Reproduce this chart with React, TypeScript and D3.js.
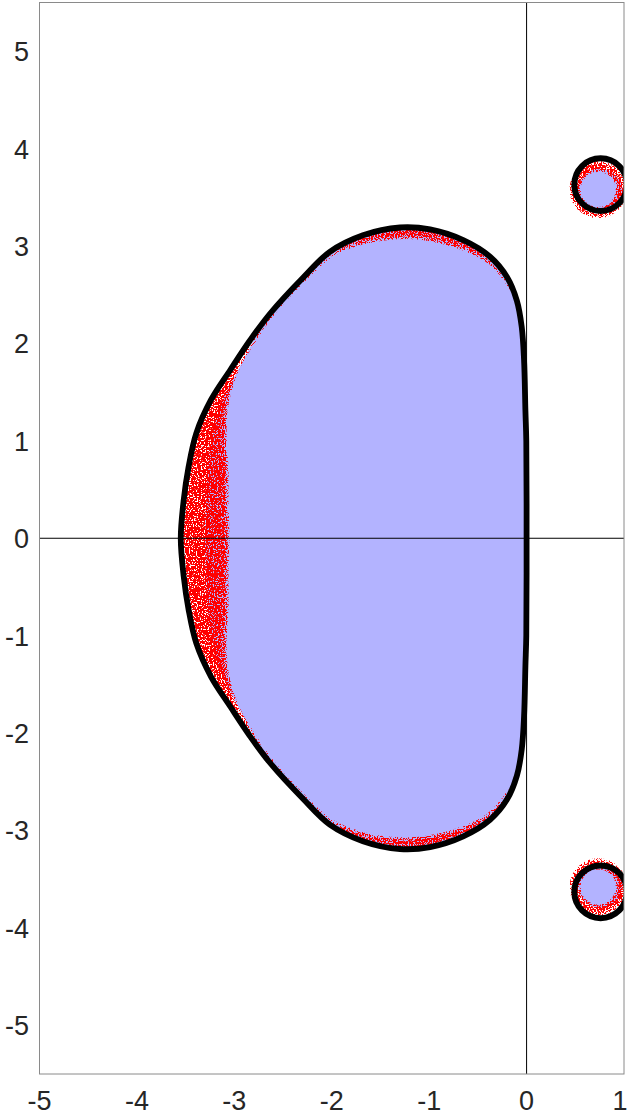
import React from 'react';
import * as d3 from 'd3';

const W = 629;
const H = 1117;

const xTicks = [-5, -4, -3, -2, -1, 0, 1];
const yTicks = [5, 4, 3, 2, 1, 0, -1, -2, -3, -4, -5];

// upper half of the black boundary, from the origin round to the left real-axis crossing
const edgeRe = [0, -0.003, -0.012, -0.026, -0.05, -0.1, -0.2, -0.375, -0.65, -0.99, -1.3, -1.68, -2.02, -2.29, -2.63, -2.84, -3.04, -3.24, -3.39, -3.47, -3.52, -3.55];
const edgeIm = [0, 1.0, 1.31, 1.83, 2.17, 2.44, 2.68, 2.89, 3.06, 3.17, 3.19, 3.11, 2.94, 2.68, 2.31, 2.03, 1.73, 1.42, 1.08, 0.73, 0.39, 0];

// upper half of the blue fill, which stays a bit inside the boundary on the left
const fillRe = [0, -0.003, -0.012, -0.026, -0.05, -0.1, -0.2, -0.375, -0.65, -0.99, -1.3, -1.68, -2.02, -2.29, -2.61, -2.8, -2.96, -3.12, -3.22, -3.27, -3.29, -3.3];
const fillIm = [0, 1.0, 1.31, 1.83, 2.17, 2.44, 2.68, 2.89, 3.06, 3.17, 3.19, 3.11, 2.94, 2.68, 2.31, 2.03, 1.73, 1.42, 1.08, 0.73, 0.39, 0];

// inner edge of the red speckle band, upper half, right to left
const speckRe = [-0.11, -0.235, -0.41, -0.68, -1.0, -1.3, -1.66, -1.99, -2.26, -2.6, -2.8, -2.95, -3.05, -3.08, -3.06, -3.06, -3.05];
const speckIm = [2.43, 2.645, 2.83, 2.965, 3.05, 3.07, 3.02, 2.89, 2.65, 2.28, 1.99, 1.73, 1.42, 1.08, 0.73, 0.39, 0];

// the two islands on the right
const islandRe = [0.76, 0.76];
const islandIm = [3.63, -3.63];
const islandR = 0.27;
const islandFillRe = [0.755, 0.755];
const islandFillIm = [3.57, -3.57];
const islandFillR = 0.225;
const islandSpeckRe = [0.735, 0.735];
const islandSpeckIm = [3.58, -3.58];
const islandSpeckR = [0.18, 0.295]; // inner, outer

type Pt = [number, number];

const pts = (re: number[], im: number[]): Pt[] => re.map((r, i) => [r, im[i]]);
// close an upper half with its mirror image below the real axis
const mirrored = (half: Pt[]): Pt[] => [
  ...half,
  ...half.slice(1, -1).reverse().map(([r, i]) => [r, -i] as Pt),
];

export default function App() {
  const left = 39.5, right = 624, top = 2.5, bottom = 1074;
  const x = d3.scaleLinear().domain([-5, 1]).range([left, right]);
  const y = d3.scaleLinear().domain([-5.5, 5.5]).range([bottom, top]);

  const loop = d3
    .line<Pt>()
    .x(d => x(d[0]))
    .y(d => y(d[1]))
    .curve(d3.curveCatmullRomClosed.alpha(0.5));

  const edge = mirrored(pts(edgeRe, edgeIm));
  const fill = mirrored(pts(fillRe, fillIm));

  // inner loop of the speckle band: speckle edge above, its mirror below, then the boundary near the origin
  const speckHalf = pts(speckRe, speckIm);
  const speckLower = speckHalf.slice(0, -1).reverse().map(([r, i]) => [r, -i] as Pt);
  const rightSide = pts(edgeRe.slice(0, 6), edgeIm.slice(0, 6));
  const rightLoop = [
    ...rightSide.slice(1).reverse().map(([r, i]) => [r, -i] as Pt),
    ...rightSide,
  ];
  const speckInner = [...speckHalf, ...speckLower, ...rightLoop];

  const speckBand = (loop(edge) ?? '') + (loop(speckInner) ?? '');

  const k = x(1) - x(0);
  const ring = (cx: number, cy: number) => {
    const ri = islandSpeckR[0] * k, ro = islandSpeckR[1] * k;
    const p = d3.path();
    p.moveTo(cx + ro, cy);
    p.arc(cx, cy, ro, 0, 2 * Math.PI);
    p.moveTo(cx + ri, cy);
    p.arc(cx, cy, ri, 0, 2 * Math.PI);
    return p.toString();
  };

  const font = "'Liberation Sans', Arial, Helvetica, sans-serif";

  return (
    <svg width={W} height={H} style={{ position: 'absolute', left: 0, top: 0, background: '#fff' }}>
      <defs>
        <clipPath id="plot">
          <rect x={left} y={top} width={right - left} height={bottom - top} />
        </clipPath>
        {/* noisy red dots, thinning out towards the edges of the shape they fill */}
        <filter
          id="speckle"
          x="0"
          y="0"
          width={W}
          height={H}
          filterUnits="userSpaceOnUse"
          colorInterpolationFilters="sRGB"
        >
          <feTurbulence type="fractalNoise" baseFrequency="0.75" numOctaves={1} seed={4} result="noise" />
          <feColorMatrix
            in="noise"
            type="matrix"
            values="0 0 0 0 0  0 0 0 0 0  0 0 0 0 0  -1 0 0 0 1"
            result="dark"
          />
          <feGaussianBlur in="SourceAlpha" stdDeviation="3" result="soft" />
          <feComposite in="dark" in2="soft" operator="arithmetic" k1="0" k2="0.75" k3="0.24" k4="0" result="sum" />
          <feComponentTransfer in="sum" result="mask">
            <feFuncA type="linear" slope="40" intercept="-21.3" />
          </feComponentTransfer>
          <feComposite in="mask" in2="SourceAlpha" operator="in" result="inside" />
          <feFlood floodColor="#ff0000" result="red" />
          <feComposite in="red" in2="inside" operator="in" />
        </filter>
      </defs>

      <g clipPath="url(#plot)">
        <path d={loop(fill) ?? ''} fill="#b3b3ff" />
        {islandFillRe.map((r, i) => (
          <circle key={'f' + i} cx={x(r)} cy={y(islandFillIm[i])} r={islandFillR * k} fill="#b3b3ff" />
        ))}

        <path d={speckBand} fill="#f00" fillRule="evenodd" filter="url(#speckle)" />
        {islandSpeckRe.map((r, i) => (
          <path
            key={'s' + i}
            d={ring(x(r), y(islandSpeckIm[i]))}
            fill="#f00"
            fillRule="evenodd"
            filter="url(#speckle)"
          />
        ))}

        <path d={loop(edge) ?? ''} fill="none" stroke="#000" strokeWidth={5.8} />
        {islandRe.map((r, i) => (
          <circle key={'o' + i} cx={x(r)} cy={y(islandIm[i])} r={islandR * k} fill="none" stroke="#000" strokeWidth={6} />
        ))}

        <line x1={left} x2={right} y1={y(0)} y2={y(0)} stroke="#000" strokeWidth={1} />
        <line x1={x(0)} x2={x(0)} y1={top} y2={bottom} stroke="#000" strokeWidth={1} />
      </g>

      <rect x={left} y={top} width={right - left} height={bottom - top} fill="none" stroke="#8a8a8a" strokeWidth={1} />

      <g fontFamily={font} fontSize={27} fill="#262626">
        {yTicks.map(t => (
          <text key={'y' + t} x={29} y={y(t) + 10} textAnchor="end">
            {String(t)}
          </text>
        ))}
        {xTicks.map(t => (
          <text key={'x' + t} x={Math.min(x(t), W - 9)} y={1110} textAnchor="middle">
            {String(t)}
          </text>
        ))}
      </g>
    </svg>
  );
}
